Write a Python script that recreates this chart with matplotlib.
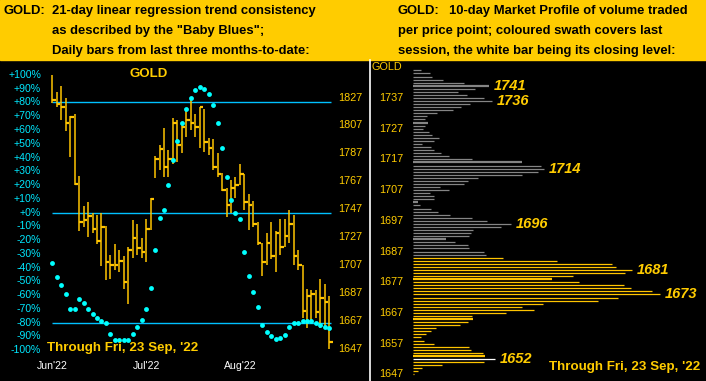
import numpy as np
import matplotlib
matplotlib.use('agg')
import matplotlib.pyplot as plt
from matplotlib.patches import Rectangle
from matplotlib.lines import Line2D

# daily HLC bars, last three months (Jun'22 .. 23 Sep '22)
highs = [1843, 1831, 1835, 1827, 1814, 1815, 1771, 1749, 1752, 1744, 1743, 1744, 1735, 1714, 1722, 1718,
         1713, 1720, 1739, 1736, 1726, 1740, 1755, 1785, 1793, 1805, 1789, 1812, 1811, 1807, 1819, 1826,
         1815, 1820, 1819, 1798, 1797, 1787, 1773, 1762, 1768, 1770, 1779, 1772, 1758, 1753, 1738, 1723,
         1730, 1738, 1731, 1740, 1740, 1746, 1743, 1718, 1707, 1690, 1689, 1689, 1697, 1693, 1685]
lows = [1823, 1820, 1811, 1803, 1784, 1764, 1731, 1734, 1727, 1730, 1722, 1706, 1696, 1697, 1703, 1702,
        1690, 1679, 1712, 1714, 1712, 1709, 1732, 1769, 1775, 1770, 1770, 1779, 1781, 1787, 1799, 1804,
        1799, 1791, 1788, 1786, 1775, 1770, 1760, 1741, 1744, 1755, 1764, 1746, 1732, 1734, 1721, 1699,
        1707, 1711, 1702, 1714, 1720, 1723, 1707, 1703, 1669, 1662, 1667, 1669, 1662, 1663, 1647]
closes = [1825, 1822, 1820, 1809, 1813, 1765, 1738, 1739, 1742, 1733, 1724, 1734, 1709, 1707, 1707, 1710,
          1695, 1718, 1726, 1719, 1716, 1733, 1754, 1783, 1790, 1777, 1783, 1809, 1793, 1806, 1811, 1809,
          1806, 1820, 1795, 1791, 1777, 1772, 1761, 1750, 1762, 1764, 1772, 1752, 1750, 1736, 1723, 1709,
          1723, 1713, 1730, 1720, 1728, 1736, 1713, 1707, 1674, 1685, 1686, 1673, 1683, 1680, 1652]
# "Baby Blues": 21-day linear regression trend consistency (%)
baby_blues = [-37, -47, -53, -59, -70, -70, -63, -66, -70, -74, -77, -79, -80, -88, -93, -93,
              -93, -93, -88, -83, -78, -70, -55, -27, -4, 2, 20, 38, 52, 65, 75, 83,
              89, 91, 90, 86, 78, 65, 47, 26, 9, 0, -5, -29, -46, -58, -69, -82,
              -87, -90, -92, -91, -89, -83, -80, -80, -79, -79, -79, -80, -82, -83, -84]
month_pos = [0, 21, 42]
month_labels = ["Jun'22", "Jul'22", "Aug'22"]
pct_ticks = list(range(100, -101, -10))
price_ticks = list(range(1827, 1646, -20))
ref_levels = [80, 0, -80]

# 10-day market profile, 1746 down to 1647
mp_prices = list(range(1746, 1646, -1))
mp_volume = [8, 17, 19, 30, 51, 76, 62, 45, 54, 71, 79, 57, 48, 40, 24, 14, 12, 15, 12, 10,
             16, 19, 26, 21, 9, 18, 21, 28, 36, 59, 109, 128, 131, 125, 109, 65, 55, 51, 27, 36,
             17, 21, 21, 5, 7, 18, 25, 37, 59, 74, 98, 88, 60, 58, 56, 33, 42, 55, 56, 71,
             73, 90, 144, 199, 203, 219, 212, 160, 139, 166, 211, 218, 239, 247, 205, 185, 130, 109, 121, 93,
             59, 60, 55, 47, 23, 18, 13, 8, 11, 21, 56, 58, 70, 72, 82, 71, 29, 9, 5, 1]
mp_labelled = [1741, 1736, 1714, 1696, 1681, 1673, 1652]
mp_thick = [1741, 1729, 1716, 1703, 1691, 1678, 1665, 1653]
mp_ticks = list(range(1737, 1646, -10))
session_low, session_high = lows[-1], highs[-1]
last_close = closes[-1]

GOLD = '#FFCC00'
BAR = '#FFC400'
CYAN = '#00FFFF'
LINE = '#00C0FF'
W, H = 706, 381
SANS = 'Liberation Sans'

def px(x, y):
	return x / W, 1 - y / H

fig = plt.figure(figsize=(W / 100, H / 100), dpi=100)
fig.patch.set_facecolor('black')
fig.patches.append(Rectangle((0, 1 - 60 / H), 1, 60 / H, transform=fig.transFigure, color=GOLD, zorder=0))
fig.lines.append(Line2D([369.5 / W] * 2, [0, 1 - 60 / H], transform=fig.transFigure, color='white', lw=1.2))

# header text
hfont = dict(family=SANS, weight='bold', fontsize=9.4, color='black', va='center')
fig.text(*px(4, 11), 'GOLD:', **hfont)
fig.text(*px(52, 11), '21-day linear regression trend consistency', **hfont)
fig.text(*px(52, 31), 'as described by the "Baby Blues";', **hfont)
fig.text(*px(52, 51), 'Daily bars from last three months-to-date:', **hfont)
fig.text(*px(398, 11), 'GOLD:', **hfont)
fig.text(*px(449, 11), '10-day Market Profile of volume traded', **hfont)
fig.text(*px(398, 31), 'per price point; coloured swath covers last', **hfont)
fig.text(*px(398, 51), 'session, the white bar being its closing level:', **hfont)

# ---- left panel: bars + baby blues
rect = [0, 0, 368 / W, 321 / H]
xlim = (-52.3 / 4.468, (368 - 52.3) / 4.468)
ax_l = fig.add_axes(rect)
ax_b = fig.add_axes(rect)
ax_d = fig.add_axes(rect)
for a in (ax_l, ax_b, ax_d):
	a.set_axis_off()
	a.set_xlim(*xlim)
	a.patch.set_alpha(0)
ax_l.set_ylim(-122.5, 110.9)
ax_d.set_ylim(-122.5, 110.9)
ax_b.set_ylim(1623.7, 1853.9)

x = np.arange(len(closes))
ax_l.hlines(ref_levels, 0, 62.3, colors=LINE, lw=1.0)
ax_b.vlines(x, lows, highs, colors=BAR, lw=1.1)
ax_b.hlines(closes, x, x + 0.8, colors=BAR, lw=1.6)
ax_d.plot(x, baby_blues, 'o', color=CYAN, ms=3.5, mec='none')

for v in pct_ticks:
	ax_l.text(-2.5, v, ('+%d%%' % v) if v >= 0 else ('%d%%' % v), color='#00E8FF', fontsize=7.6,
	          ha='right', va='center', family=SANS)
for p in price_ticks:
	ax_b.text(63.9, p, str(p), color=GOLD, fontsize=7.8, ha='left', va='center', family=SANS)
for pos, lab in zip(month_pos, month_labels):
	ax_l.text(pos, -111.5, lab, color='white', fontsize=7.6, ha='center', va='center', family=SANS)
ax_l.text(0.405, 0.955, 'GOLD', transform=ax_l.transAxes, color=GOLD, fontsize=9.5, weight='bold',
          ha='center', va='center', family=SANS)
fig.text(*px(47, 348), "Through Fri, 23 Sep, '22", color=GOLD, fontsize=9.6, weight='bold',
         va='center', family=SANS)

# ---- right panel: market profile
ax_p = fig.add_axes([370 / W, 0, 336 / W, 321 / H])
ax_p.set_axis_off()
ax_p.patch.set_alpha(0)
ax_p.set_xlim(-43, 293)
ax_p.set_ylim(1644.82, 1749.38)
for p, v in zip(mp_prices, mp_volume):
	if p == last_close:
		c = 'white'
	elif session_low <= p <= session_high:
		c = BAR
	else:
		c = '#858585'
	lw = 1.6 if p in mp_thick else 0.9
	ax_p.hlines(p, 0, v, colors=c, lw=lw)
	if p in mp_labelled:
		ax_p.text(v + 4.5, p, str(p), color=GOLD, fontsize=10.5, weight='bold', style='italic',
		          ha='left', va='center', family=SANS)
for p in mp_ticks:
	ax_p.text(-22, p, str(p), color=GOLD, fontsize=7.8, ha='center', va='center', family=SANS)
ax_p.text(-26, 1747, 'GOLD', color=GOLD, fontsize=7.8, ha='center', va='center', family=SANS)
fig.text(*px(549, 367), "Through Fri, 23 Sep, '22", color=GOLD, fontsize=9.6, weight='bold',
         va='center', family=SANS)

fig.savefig('out.png', dpi=100, facecolor='black')
